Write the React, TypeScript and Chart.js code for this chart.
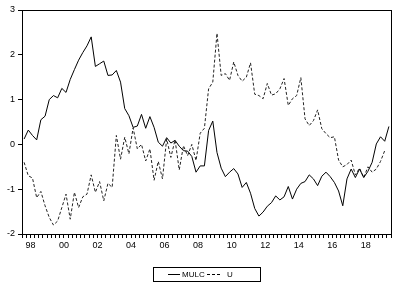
import React, { useEffect, useRef } from "react";
import { Chart, registerables } from "chart.js";

Chart.register(...registerables);

// Quarterly observations, 1997Q3 .. 2019Q2
const startYear = 1997;
const startQuarter = 3;

const yearLabels = ["98", "00", "02", "04", "06", "08", "10", "12", "14", "16", "18"];
const yTicks = [-2, -1, 0, 1, 2, 3];

const mulc: number[] = [
  0.12, 0.32, 0.2, 0.1, 0.55, 0.63, 1.0, 1.09, 1.04, 1.25,
  1.16, 1.45, 1.67, 1.88, 2.05, 2.2, 2.4, 1.74, 1.8, 1.86,
  1.54, 1.55, 1.65, 1.39, 0.8, 0.64, 0.38, 0.41, 0.67, 0.36,
  0.62, 0.38, 0.05, -0.04, 0.15, 0.03, 0.09, -0.04, -0.14, -0.15,
  -0.27, -0.62, -0.48, -0.48, 0.31, 0.52, -0.18, -0.53, -0.72, -0.62,
  -0.54, -0.66, -0.96, -0.85, -1.09, -1.43, -1.6, -1.51, -1.38, -1.3,
  -1.15, -1.24, -1.17, -0.94, -1.22, -1.0, -0.87, -0.83, -0.68, -0.77,
  -0.92, -0.71, -0.62, -0.72, -0.85, -1.04, -1.37, -0.77, -0.55, -0.74,
  -0.55, -0.74, -0.6, -0.4, 0.01, 0.17, 0.07, 0.4,
];

const u: (number | null)[] = [
  -0.4, -0.7, -0.75, -1.19, -1.05, -1.37, -1.63, -1.8, -1.71, -1.41,
  -1.11, -1.67, -1.07, -1.41, -1.17, -1.11, -0.68, -1.07, -0.83, -1.26,
  -0.87, -0.96, 0.2, -0.33, 0.16, -0.21, 0.37, -0.1, 0.0, -0.37,
  -0.1, -0.8, -0.38, -0.77, 0.12, -0.29, 0.1, -0.57, -0.03, -0.25,
  0.0, -0.36, 0.25, 0.36, 1.24, 1.39, 2.48, 1.54, 1.58, 1.43,
  1.84, 1.54, 1.41, 1.5, 1.82, 1.12, 1.09, 1.02, 1.36, 1.1,
  1.13, 1.24, 1.47, 0.87, 1.02, 1.09, 1.49, 0.57, 0.42, 0.53,
  0.77, 0.35, 0.24, 0.15, 0.17, -0.35, -0.5, -0.45, -0.35, -0.68,
  -0.53, -0.74, -0.5, -0.62, -0.55, -0.38, -0.14, null,
];

const FONT = "Arial, 'Liberation Sans', sans-serif";

// index of first 1998Q1 observation relative to start
const firstYearBoundary = (4 - startQuarter + 1) - 0.5; // boundary before 1998Q1

const boxLegendPlugin = {
  id: "boxLegend",
  afterDraw(chart: any) {
    const { ctx, chartArea } = chart;
    ctx.save();
    ctx.strokeStyle = "#000";
    ctx.lineWidth = 1;
    ctx.strokeRect(
      Math.round(chartArea.left) + 0.5,
      Math.round(chartArea.top) + 0.5,
      Math.round(chartArea.right - chartArea.left),
      Math.round(chartArea.bottom - chartArea.top)
    );
    // legend box
    ctx.strokeRect(153.5, 267.5, 107, 14);
    ctx.font = `8px ${FONT}`;
    ctx.fillStyle = "#000";
    ctx.textBaseline = "middle";
    ctx.beginPath();
    ctx.moveTo(168, 274.5);
    ctx.lineTo(180, 274.5);
    ctx.stroke();
    ctx.fillText(chart.data.datasets[0].label, 182, 275);
    ctx.setLineDash([3, 2]);
    ctx.beginPath();
    ctx.moveTo(207, 274.5);
    ctx.lineTo(221, 274.5);
    ctx.stroke();
    ctx.setLineDash([]);
    ctx.fillText(chart.data.datasets[1].label, 227, 275);
    ctx.restore();
  },
};

export default function App() {
  const ref = useRef<HTMLCanvasElement | null>(null);
  useEffect(() => {
    if (!ref.current) return;
    const n = mulc.length;
    const chart = new Chart(ref.current, {
      type: "line",
      data: {
        datasets: [
          {
            label: "MULC",
            data: mulc.map((v, i) => ({ x: i, y: v })),
            borderColor: "#000",
            borderWidth: 1,
            pointRadius: 0,
            tension: 0,
          },
          {
            label: "U",
            data: u.map((v, i) => ({ x: i, y: v })),
            borderColor: "#222",
            borderWidth: 1,
            borderDash: [3, 2],
            pointRadius: 0,
            tension: 0,
            spanGaps: false,
          },
        ],
      },
      plugins: [boxLegendPlugin],
      options: {
        responsive: false,
        animation: false,
        layout: { padding: { top: 10, right: 9, bottom: 0, left: 0 } },
        plugins: { legend: { display: false }, tooltip: { enabled: false } },
        scales: {
          x: {
            type: "linear",
            min: -0.5,
            max: n - 0.5,
            afterBuildTicks: (scale: any) => {
              const t = [];
              for (let v = -0.5; v <= n - 0.5 + 1e-9; v += 1) t.push({ value: v });
              scale.ticks = t;
            },
            afterFit: (scale: any) => {
              scale.height = 54;
            },
            grid: {
              drawOnChartArea: false,
              drawTicks: true,
              tickLength: 4,
              color: "#000",
            },
            border: { display: true, color: "#000" },
            ticks: {
              autoSkip: false,
              maxRotation: 0,
              minRotation: 0,
              padding: 2,
              color: "#000",
              font: { family: FONT, size: 9 },
              callback: (value: any) => {
                const k = (Number(value) - firstYearBoundary) / 8;
                if (Math.abs(k - Math.round(k)) < 1e-6 && k >= 0) {
                  return yearLabels[Math.round(k)] ?? "";
                }
                return "";
              },
            },
          },
          y: {
            min: yTicks[0],
            max: yTicks[yTicks.length - 1],
            afterBuildTicks: (scale: any) => {
              scale.ticks = yTicks.map((v) => ({ value: v }));
            },
            afterFit: (scale: any) => {
              scale.width = 22;
            },
            grid: {
              drawOnChartArea: false,
              drawTicks: true,
              tickLength: 4,
              color: "#000",
            },
            border: { display: true, color: "#000" },
            ticks: {
              padding: 3,
              color: "#000",
              font: { family: FONT, size: 9 },
            },
          },
        },
      },
    });
    return () => chart.destroy();
  }, []);
  return (
    <div style={{ position: "fixed", left: 0, top: 0, width: 400, height: 288, background: "#fff" }}>
      <canvas ref={ref} width={400} height={288} />
    </div>
  );
}
